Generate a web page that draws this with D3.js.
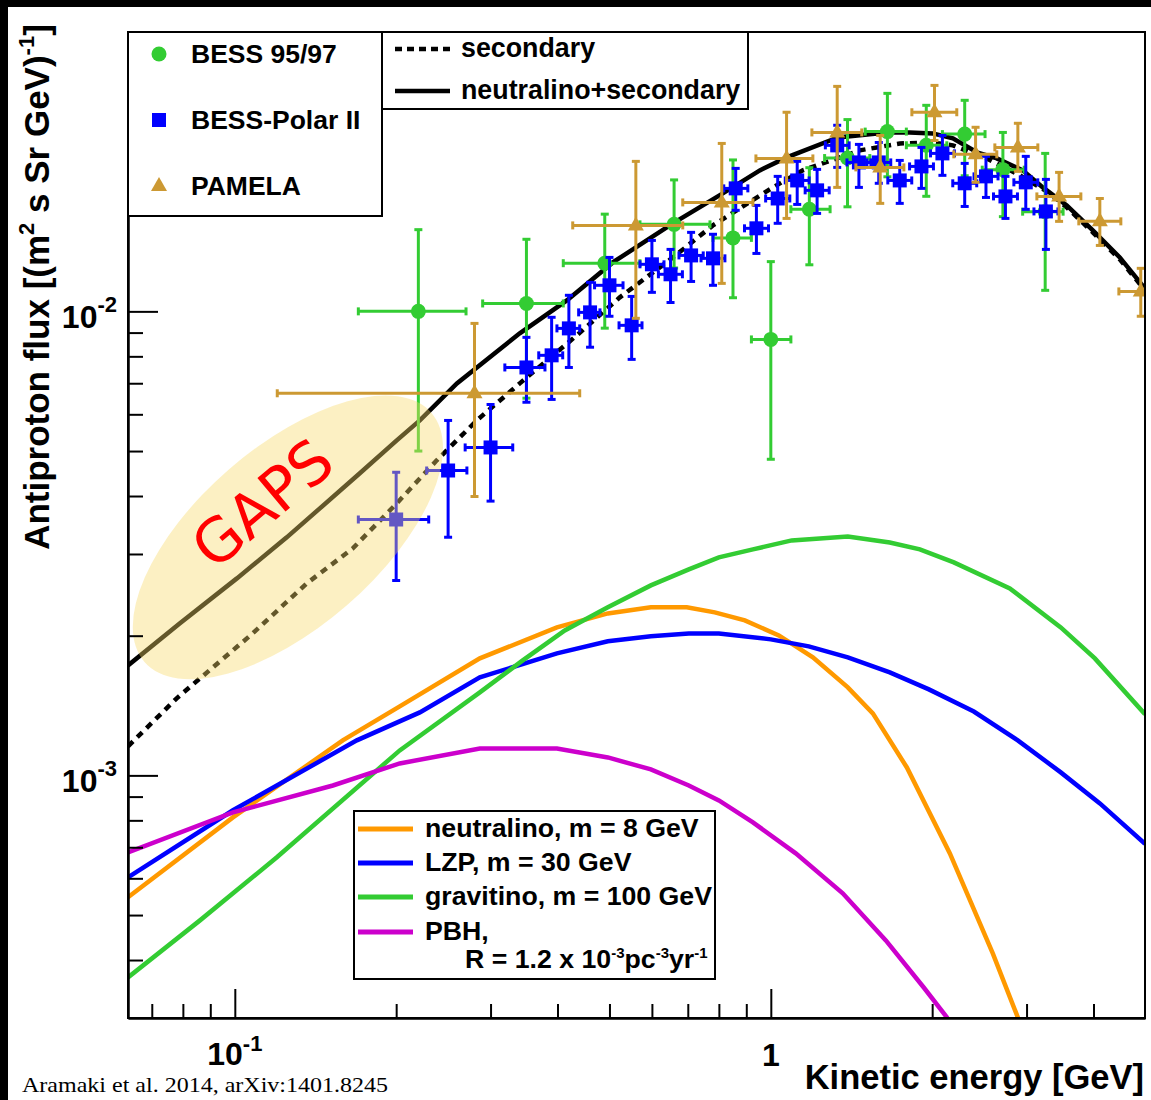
<!DOCTYPE html>
<html>
<head>
<meta charset="utf-8">
<script src="https://cdn.jsdelivr.net/npm/d3@7"></script>
<style>
  body { margin: 0; background: #fff; }
  text { font-family: "Liberation Sans", Arial, sans-serif; font-weight: bold; fill: #000; }
</style>
</head>
<body>
<div id="chart"></div>
<script>
// ---- data (kinetic energy in GeV, flux in (m^2 s sr GeV)^-1) ----

// BESS 95/97
var bessE   = [0.22, 0.35, 0.49, 0.66, 0.85, 1.00, 1.18, 1.39, 1.65, 1.95, 2.30, 2.71, 3.25];
var bessElo = [0.17, 0.29, 0.41, 0.57, 0.78, 0.92, 1.09, 1.26, 1.50, 1.79, 2.09, 2.48, 2.95];
var bessEhi = [0.27, 0.41, 0.57, 0.77, 0.92, 1.09, 1.29, 1.53, 1.79, 2.13, 2.51, 2.97, 3.51];
var bessF   = [0.0100, 0.0104, 0.0127, 0.0154, 0.0144, 0.0087, 0.0166, 0.0214, 0.0244, 0.0228, 0.0241, 0.0202, 0.0164];
var bessFlo = [0.0050, 0.0065, 0.0092, 0.0124, 0.0107, 0.0048, 0.0126, 0.0168, 0.0195, 0.0177, 0.0196, 0.0160, 0.0111];
var bessFhi = [0.0150, 0.0143, 0.0162, 0.0192, 0.0212, 0.0128, 0.0204, 0.0259, 0.0295, 0.0278, 0.0285, 0.0243, 0.0219];

// BESS-Polar II
var polarE   = [0.20, 0.25, 0.30, 0.35, 0.39, 0.42, 0.46, 0.50, 0.55, 0.60, 0.65, 0.71, 0.78, 0.86, 0.94,
                1.03, 1.12, 1.22, 1.33, 1.46, 1.59, 1.74, 1.91, 2.09, 2.30, 2.52, 2.74, 2.99, 3.26];
var polarElo = [0.170, 0.228, 0.269, 0.319, 0.369, 0.399, 0.438, 0.469, 0.521, 0.570, 0.617, 0.674, 0.741, 0.817, 0.893,
                0.978, 1.064, 1.159, 1.264, 1.387, 1.511, 1.653, 1.815, 1.986, 2.185, 2.394, 2.603, 2.841, 3.097];
var polarEhi = [0.230, 0.271, 0.330, 0.379, 0.409, 0.440, 0.480, 0.530, 0.575, 0.632, 0.684, 0.748, 0.821, 0.906, 0.990,
                1.085, 1.179, 1.285, 1.400, 1.537, 1.674, 1.832, 2.011, 2.201, 2.422, 2.654, 2.885, 3.148, 3.433];
var polarF   = [0.00356, 0.00454, 0.00509, 0.00757, 0.00804, 0.00919, 0.00995, 0.01138, 0.00933, 0.01263, 0.01202, 0.01320, 0.01301, 0.01841, 0.01510,
                0.01751, 0.01915, 0.01823, 0.02279, 0.02094, 0.02094, 0.01915, 0.02053, 0.02190, 0.01888, 0.01954, 0.01769, 0.01897, 0.01642];
var polarFlo = [0.00263, 0.00326, 0.00390, 0.00637, 0.00646, 0.00757, 0.00837, 0.00976, 0.00788, 0.01099, 0.01045, 0.01160, 0.01138, 0.01651, 0.01333,
                0.01548, 0.01700, 0.01626, 0.02043, 0.01850, 0.01888, 0.01709, 0.01841, 0.01964, 0.01683, 0.01760, 0.01586, 0.01659, 0.01360];
var polarFhi = [0.00450, 0.00582, 0.00630, 0.00879, 0.00971, 0.01083, 0.01155, 0.01307, 0.01077, 0.01422, 0.01360, 0.01480, 0.01466, 0.02033, 0.01692,
                0.01954, 0.02105, 0.02023, 0.02518, 0.02290, 0.02312, 0.02115, 0.02256, 0.02394, 0.02084, 0.02158, 0.01954, 0.02158, 0.01925];

// PAMELA
var pamE   = [0.28, 0.56, 0.81, 1.07, 1.33, 1.60, 2.02, 2.41, 2.89, 3.45, 4.11, 4.90];
var pamElo = [0.120, 0.427, 0.685, 0.938, 1.193, 1.441, 1.833, 2.195, 2.618, 3.136, 3.755, 4.460];
var pamEhi = [0.440, 0.685, 0.926, 1.198, 1.478, 1.771, 2.223, 2.640, 3.149, 3.788, 4.498, 5.400];
var pamF   = [0.00666, 0.01532, 0.01717, 0.02136, 0.02430, 0.02043, 0.02686, 0.02180, 0.02256, 0.01769, 0.01563, 0.01104];
var pamFlo = [0.00399, 0.00966, 0.01149, 0.01586, 0.01850, 0.01709, 0.02335, 0.01897, 0.02003, 0.01563, 0.01387, 0.00976];
var pamFhi = [0.00942, 0.02105, 0.02301, 0.02686, 0.03054, 0.02394, 0.03069, 0.02493, 0.02543, 0.01993, 0.01751, 0.01238];

// secondary (dotted)
var secE = [0.0632, 0.0779, 0.108, 0.1362, 0.166, 0.2005, 0.2381, 0.2828, 0.3401, 0.4345, 0.5228, 0.6566, 0.7796,
            1.009, 1.147, 1.466, 1.741, 2.005, 2.186, 2.529, 2.915, 3.316, 3.566, 3.988, 4.478, 4.99];
var secF = [0.001155, 0.001466, 0.002023, 0.002593, 0.003084, 0.003857, 0.004775, 0.005822, 0.006995, 0.008877, 0.01072, 0.01307, 0.01532,
            0.01850, 0.02013, 0.02223, 0.02301, 0.02312, 0.02279, 0.02136, 0.01964, 0.01796, 0.01675, 0.01480, 0.01294, 0.01110];

// neutralino + secondary (solid)
var totE = [0.0632, 0.0789, 0.1009, 0.125, 0.1441, 0.1711, 0.2005, 0.2214, 0.2596, 0.3401, 0.4163, 0.5072, 0.6566, 0.8136,
            0.9539, 1.071, 1.334, 1.646, 1.816, 2.005, 2.186, 2.423, 2.640, 2.952, 3.217, 3.566, 3.988, 4.478, 4.99];
var totF = [0.001726, 0.002126, 0.002658, 0.003258, 0.003762, 0.004477, 0.005272, 0.005822, 0.006995, 0.008966, 0.01056, 0.01275, 0.01548, 0.01796,
            0.02013, 0.02147, 0.02371, 0.02430, 0.02430, 0.02418, 0.02359, 0.02202, 0.02136, 0.02013, 0.01850, 0.01692, 0.01495, 0.01307, 0.01120];

// neutralino, m = 8 GeV
var neuE = [0.0632, 0.0992, 0.159, 0.2031, 0.2865, 0.399, 0.4965, 0.5973, 0.697, 0.786, 0.8943, 1.035, 1.198, 1.392, 1.550, 1.794, 2.158, 2.596, 2.889, 2.98];
var neuF = [0.000546, 0.000812, 0.001190, 0.001408, 0.001787, 0.002084, 0.002234, 0.002302, 0.002302, 0.002245, 0.002158, 0.002003, 0.001796, 0.001548, 0.001360, 0.001040, 0.000679, 0.000413, 0.000301, 0.000270];

// LZP, m = 30 GeV
var lzpE = [0.0632, 0.0992, 0.1689, 0.2214, 0.2865, 0.399, 0.4965, 0.5973, 0.7031, 0.80, 1.0, 1.177, 1.392, 1.667, 1.972, 2.392, 2.889, 3.475, 4.111, 4.99];
var lzpF = [0.000603, 0.000841, 0.001190, 0.001367, 0.001626, 0.001832, 0.001945, 0.001994, 0.002023, 0.002023, 0.001964, 0.001897, 0.001796, 0.001667, 0.001532, 0.001373, 0.001190, 0.001015, 0.000870, 0.000712];

// gravitino, m = 100 GeV
var gravE = [0.0632, 0.0861, 0.1198, 0.2031, 0.2865, 0.3445, 0.4127, 0.4965, 0.5973, 0.7031, 0.80, 0.926, 1.094, 1.392, 1.667, 1.897, 2.195, 2.792, 3.475, 4.023, 4.99];
var gravF = [0.000367, 0.000487, 0.000666, 0.001132, 0.001510, 0.001769, 0.002053, 0.002302, 0.002567, 0.002780, 0.002950, 0.003069, 0.003209, 0.003273, 0.003177, 0.003069, 0.002877, 0.002529, 0.002084, 0.001787, 0.001355];

// PBH
var pbhE = [0.0632, 0.0992, 0.1524, 0.2031, 0.2865, 0.399, 0.4965, 0.5973, 0.7031, 0.80, 0.926, 1.113, 1.362, 1.639, 1.929, 2.130, 2.252];
var pbhF = [0.000682, 0.000832, 0.000951, 0.001061, 0.001143, 0.001143, 0.001093, 0.001030, 0.000951, 0.000883, 0.000792, 0.000679, 0.000557, 0.000441, 0.000349, 0.000301, 0.000269];

// axis ticks
var xMajor = [0.1, 1];
var xMinor = [0.07, 0.08, 0.09, 0.2, 0.3, 0.4, 0.5, 0.6, 0.7, 0.8, 0.9, 2, 3, 4];
var yMajor = [0.001, 0.01];
var yMinor = [0.0004, 0.0005, 0.0006, 0.0007, 0.0008, 0.0009, 0.002, 0.003, 0.004, 0.005, 0.006, 0.007, 0.008, 0.009, 0.02, 0.03];

// GAPS region centre
var gapsE = 0.1256, gapsF = 0.003258;

// ---- drawing ----
var width = 1151, height = 1100;
var L = 128, R = 1145, T = 32, B = 1018;

var cGreen = "#33cc33", cBlue = "#0000ff", cBrown = "#cc9933", cOrange = "#ff9900", cMagenta = "#cc00cc";

var x = d3.scaleLog().domain([0.0632, 4.99]).range([L, R]);
var y = d3.scaleLog().domain([0.0003, 0.04]).range([B, T]);

var svg = d3.select("#chart").append("svg")
    .attr("width", width)
    .attr("height", height);

svg.append("rect").attr("width", width).attr("height", height).attr("fill", "#fff");
// black picture frame (top and left)
svg.append("rect").attr("x", 0).attr("y", 0).attr("width", width).attr("height", 7).attr("fill", "#000");
svg.append("rect").attr("x", 0).attr("y", 0).attr("width", 8).attr("height", height).attr("fill", "#000");

svg.append("clipPath").attr("id", "plotclip")
  .append("rect").attr("x", L).attr("y", T).attr("width", R - L).attr("height", B - T);

var plot = svg.append("g").attr("clip-path", "url(#plotclip)");

var line = d3.line()
    .x(function(d) { return x(d[0]); })
    .y(function(d) { return y(d[1]); });

function curve(E, F, color, dash) {
  plot.append("path")
    .datum(d3.zip(E, F))
    .attr("d", line)
    .attr("fill", "none")
    .attr("stroke", color)
    .attr("stroke-width", 4.5)
    .attr("stroke-dasharray", dash || null);
}

curve(neuE, neuF, cOrange);
curve(lzpE, lzpF, cBlue);
curve(gravE, gravF, cGreen);
curve(pbhE, pbhF, cMagenta);
curve(secE, secF, "#000", "7,6");
curve(totE, totF, "#000");

function series(E, Elo, Ehi, F, Flo, Fhi, color, marker) {
  var data = E.map(function(e, i) {
    return {e: e, elo: Elo[i], ehi: Ehi[i], f: F[i], flo: Flo[i], fhi: Fhi[i]};
  });
  var g = plot.append("g").attr("stroke", color).attr("fill", color).attr("stroke-width", 3);
  var pts = g.selectAll("g").data(data).enter().append("g");
  var cap = 4;
  // vertical bars
  pts.append("line")
    .attr("x1", function(d) { return x(d.e); }).attr("x2", function(d) { return x(d.e); })
    .attr("y1", function(d) { return y(d.flo); }).attr("y2", function(d) { return y(d.fhi); });
  pts.append("line")
    .attr("x1", function(d) { return x(d.e) - cap; }).attr("x2", function(d) { return x(d.e) + cap; })
    .attr("y1", function(d) { return y(d.flo); }).attr("y2", function(d) { return y(d.flo); });
  pts.append("line")
    .attr("x1", function(d) { return x(d.e) - cap; }).attr("x2", function(d) { return x(d.e) + cap; })
    .attr("y1", function(d) { return y(d.fhi); }).attr("y2", function(d) { return y(d.fhi); });
  // horizontal bars
  pts.append("line")
    .attr("x1", function(d) { return x(d.elo); }).attr("x2", function(d) { return x(d.ehi); })
    .attr("y1", function(d) { return y(d.f); }).attr("y2", function(d) { return y(d.f); });
  pts.append("line")
    .attr("x1", function(d) { return x(d.elo); }).attr("x2", function(d) { return x(d.elo); })
    .attr("y1", function(d) { return y(d.f) - cap; }).attr("y2", function(d) { return y(d.f) + cap; });
  pts.append("line")
    .attr("x1", function(d) { return x(d.ehi); }).attr("x2", function(d) { return x(d.ehi); })
    .attr("y1", function(d) { return y(d.f) - cap; }).attr("y2", function(d) { return y(d.f) + cap; });
  pts.append("path")
    .attr("stroke", "none")
    .attr("transform", function(d) { return "translate(" + x(d.e) + "," + y(d.f) + ")"; })
    .attr("d", marker);
}

var circlePath = "M-7.5,0A7.5,7.5 0 1,0 7.5,0A7.5,7.5 0 1,0 -7.5,0Z";
var squarePath = "M-7,-7H7V7H-7Z";
var trianglePath = "M0,-9L8,5H-8Z";

series(bessE, bessElo, bessEhi, bessF, bessFlo, bessFhi, cGreen, circlePath);
series(polarE, polarElo, polarEhi, polarF, polarFlo, polarFhi, cBlue, squarePath);
series(pamE, pamElo, pamEhi, pamF, pamFlo, pamFhi, cBrown, trianglePath);

// GAPS sensitivity region
var gaps = plot.append("g")
  .attr("transform", "translate(" + x(gapsE) + "," + y(gapsF) + ") rotate(-41)");
gaps.append("ellipse")
  .attr("rx", 190).attr("ry", 90)
  .attr("fill", "#f8da68").attr("fill-opacity", 0.4);

svg.append("text")
  .attr("transform", "translate(262,503) rotate(-40)")
  .attr("text-anchor", "middle")
  .attr("dy", "0.36em")
  .style("font-family", "'DejaVu Sans', sans-serif")
  .style("font-weight", "normal")
  .style("font-size", "60px")
  .style("fill", "#ff0000")
  .text("GAPS");

// ---- axes ----
function styleAxis(g) {
  g.selectAll("path").attr("stroke", "#000").attr("stroke-width", 2);
  g.selectAll("line").attr("stroke", "#000").attr("stroke-width", 2);
  g.selectAll("text").remove();
}

svg.append("g").attr("transform", "translate(0," + B + ")")
  .call(d3.axisBottom(x).tickValues(xMajor).tickSize(-29).tickSizeOuter(0).tickFormat(""))
  .call(styleAxis);
svg.append("g").attr("transform", "translate(0," + B + ")")
  .call(d3.axisBottom(x).tickValues(xMinor).tickSize(-14).tickSizeOuter(0).tickFormat(""))
  .call(styleAxis);
svg.append("g").attr("transform", "translate(" + L + ",0)")
  .call(d3.axisLeft(y).tickValues(yMajor).tickSize(-30).tickSizeOuter(0).tickFormat(""))
  .call(styleAxis);
svg.append("g").attr("transform", "translate(" + L + ",0)")
  .call(d3.axisLeft(y).tickValues(yMinor).tickSize(-15).tickSizeOuter(0).tickFormat(""))
  .call(styleAxis);

svg.append("rect")
  .attr("x", L).attr("y", T).attr("width", R - L).attr("height", B - T)
  .attr("fill", "none").attr("stroke", "#000").attr("stroke-width", 2);

// tick labels
function powLabel(px, py, anchor, base, exp, supDy) {
  var t = svg.append("text")
    .attr("x", px).attr("y", py)
    .attr("text-anchor", anchor)
    .style("font-size", "32px");
  t.append("tspan").text(base);
  if (exp) t.append("tspan").attr("dy", supDy).style("font-size", "22px").text(exp);
}
powLabel(L - 11, y(0.01) + 17, "end", "10", "-2", -16);
powLabel(L - 11, y(0.001) + 17, "end", "10", "-3", -16);
powLabel(x(0.1), 1065, "middle", "10", "-1", -14);
powLabel(x(1), 1066, "middle", "1", null, 0);

// axis titles
svg.append("text")
  .attr("x", R - 1).attr("y", 1089)
  .attr("text-anchor", "end")
  .style("font-size", "34.5px")
  .text("Kinetic energy [GeV]");

var yt = svg.append("text")
  .attr("transform", "translate(49,287) rotate(-90)")
  .attr("text-anchor", "middle")
  .style("font-size", "35px");
yt.append("tspan").text("Antiproton flux [(m");
yt.append("tspan").attr("dy", -15).style("font-size", "22px").text("2");
yt.append("tspan").attr("dy", 15).text(" s Sr GeV)");
yt.append("tspan").attr("dy", -15).style("font-size", "22px").text("-1");
yt.append("tspan").attr("dy", 15).text("]");

svg.append("text")
  .attr("x", 22).attr("y", 1092)
  .attr("textLength", 366)
  .attr("lengthAdjust", "spacingAndGlyphs")
  .style("font-family", "'Liberation Serif', serif")
  .style("font-weight", "normal")
  .style("font-size", "22px")
  .text("Aramaki et al. 2014, arXiv:1401.8245");

// ---- legends ----
function box(x0, y0, w, h) {
  svg.append("rect").attr("x", x0).attr("y", y0).attr("width", w).attr("height", h)
    .attr("fill", "#fff").attr("stroke", "#000").attr("stroke-width", 2);
}

// data legend
box(L, T, 254, 184);
var dataLegend = [
  {label: "BESS 95/97", color: cGreen, marker: circlePath, yy: 54},
  {label: "BESS-Polar II", color: cBlue, marker: squarePath, yy: 120},
  {label: "PAMELA", color: cBrown, marker: trianglePath, yy: 186}
];
dataLegend.forEach(function(d) {
  svg.append("path").attr("d", d.marker).attr("fill", d.color)
    .attr("transform", "translate(159," + d.yy + ")");
  svg.append("text").attr("x", 191).attr("y", d.yy + 9).style("font-size", "26.5px").text(d.label);
});

// background legend
box(382, T, 366, 77);
svg.append("line").attr("x1", 395).attr("x2", 450).attr("y1", 49).attr("y2", 49)
  .attr("stroke", "#000").attr("stroke-width", 4.5).attr("stroke-dasharray", "7,5");
svg.append("text").attr("x", 461).attr("y", 57).style("font-size", "26.8px").text("secondary");
svg.append("line").attr("x1", 395).attr("x2", 450).attr("y1", 91).attr("y2", 91)
  .attr("stroke", "#000").attr("stroke-width", 4.5);
svg.append("text").attr("x", 461).attr("y", 99).style("font-size", "26.8px").text("neutralino+secondary");

// model legend
box(354, 811, 361, 168);
var modelLegend = [
  {label: "neutralino, m = 8 GeV", color: cOrange, yy: 829},
  {label: "LZP, m = 30 GeV", color: cBlue, yy: 863},
  {label: "gravitino, m = 100 GeV", color: cGreen, yy: 897},
  {label: "PBH,", color: cMagenta, yy: 932}
];
modelLegend.forEach(function(d) {
  svg.append("line").attr("x1", 358).attr("x2", 413).attr("y1", d.yy).attr("y2", d.yy)
    .attr("stroke", d.color).attr("stroke-width", 5);
  svg.append("text").attr("x", 425).attr("y", d.yy + 8).style("font-size", "26.7px").text(d.label);
});
var rt = svg.append("text").attr("x", 465).attr("y", 968).style("font-size", "26.7px");
rt.append("tspan").text("R = 1.2 x 10");
rt.append("tspan").attr("dy", -10).style("font-size", "15px").text("-3");
rt.append("tspan").attr("dy", 10).text("pc");
rt.append("tspan").attr("dy", -10).style("font-size", "15px").text("-3");
rt.append("tspan").attr("dy", 10).text("yr");
rt.append("tspan").attr("dy", -10).style("font-size", "15px").text("-1");
</script>
</body>
</html>
